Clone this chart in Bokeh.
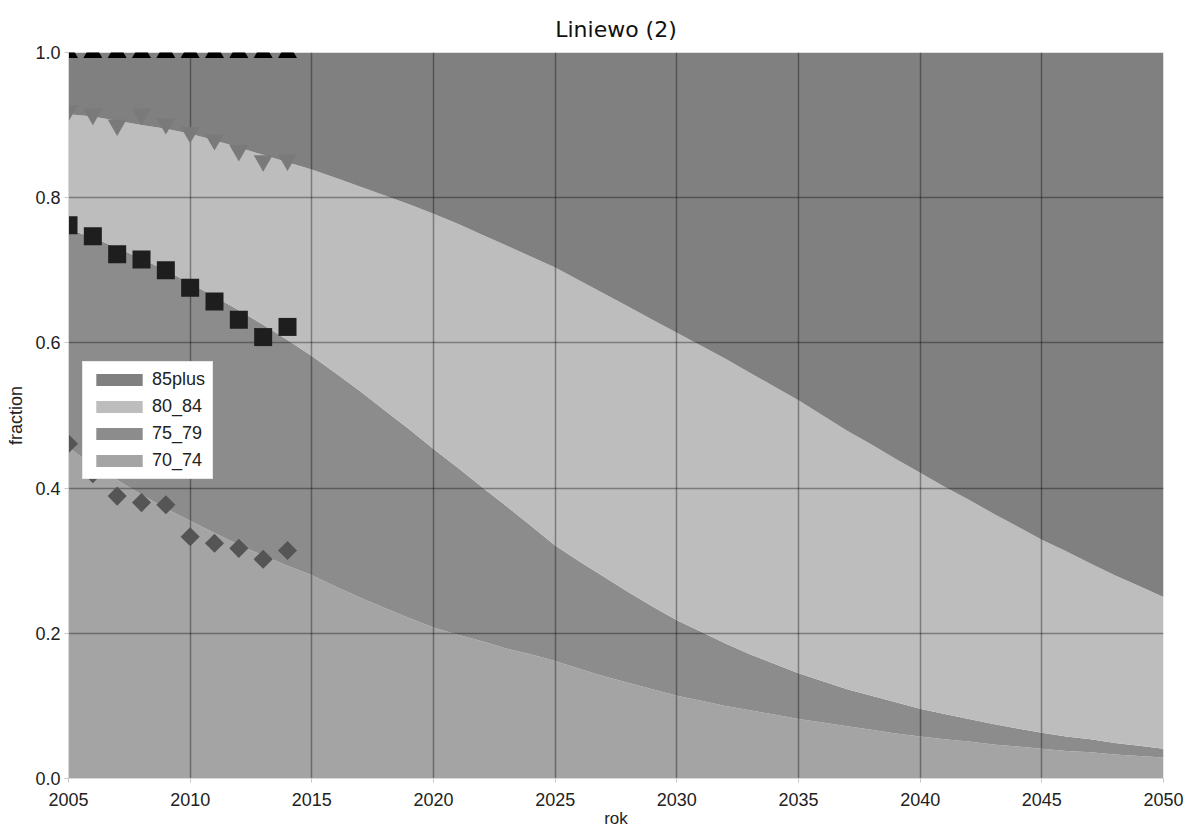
from bokeh.plotting import figure
from bokeh.models import Legend, LegendItem, FixedTicker, Range1d, PrintfTickFormatter
from bokeh.embed import file_html
from bokeh.resources import INLINE
import math

# ---- data ----
years = list(range(2005, 2051))
# cumulative fractions (stack tops)
cum_70_74 = [0.456, 0.432, 0.411, 0.391, 0.372, 0.355, 0.338, 0.322, 0.307, 0.293,
             0.280, 0.264, 0.249, 0.235, 0.221, 0.208, 0.198, 0.189, 0.179, 0.171,
             0.162, 0.151, 0.141, 0.132, 0.123, 0.114, 0.107, 0.100, 0.094, 0.088,
             0.082, 0.077, 0.072, 0.067, 0.062, 0.058, 0.054, 0.051, 0.047, 0.044,
             0.041, 0.038, 0.036, 0.033, 0.031, 0.029]
cum_75_79 = [0.757, 0.745, 0.731, 0.716, 0.700, 0.682, 0.664, 0.645, 0.625, 0.604,
             0.582, 0.558, 0.533, 0.507, 0.481, 0.454, 0.428, 0.401, 0.375, 0.348,
             0.321, 0.299, 0.278, 0.257, 0.237, 0.218, 0.202, 0.186, 0.171, 0.158,
             0.145, 0.134, 0.123, 0.114, 0.105, 0.096, 0.089, 0.082, 0.075, 0.069,
             0.063, 0.058, 0.054, 0.049, 0.045, 0.041]
cum_80_84 = [0.915, 0.912, 0.906, 0.900, 0.895, 0.888, 0.879, 0.869, 0.859, 0.849,
             0.839, 0.827, 0.815, 0.803, 0.791, 0.778, 0.764, 0.749, 0.734, 0.719,
             0.704, 0.686, 0.668, 0.650, 0.632, 0.614, 0.596, 0.578, 0.559, 0.540,
             0.521, 0.500, 0.479, 0.460, 0.440, 0.421, 0.402, 0.384, 0.365, 0.347,
             0.329, 0.313, 0.296, 0.280, 0.265, 0.250]
cum_85plus = [1.0] * len(years)

obs_years = list(range(2005, 2015))
obs_70_74 = [0.461, 0.420, 0.389, 0.380, 0.377, 0.333, 0.324, 0.317, 0.302, 0.314]
obs_75_79 = [0.762, 0.747, 0.722, 0.715, 0.700, 0.676, 0.657, 0.632, 0.608, 0.622]
obs_80_84 = [0.920, 0.915, 0.900, 0.915, 0.902, 0.890, 0.880, 0.865, 0.851, 0.852]
obs_85plus = [1.0] * 10

labels = ["85plus", "80_84", "75_79", "70_74"]
colors = {"85plus": "#808080", "80_84": "#bdbdbd", "75_79": "#8c8c8c", "70_74": "#a4a4a4"}
x_ticks = [2005, 2010, 2015, 2020, 2025, 2030, 2035, 2040, 2045, 2050]
y_ticks = [0.0, 0.2, 0.4, 0.6, 0.8, 1.0]

FONT = "Liberation Sans"

p = figure(width=1184, height=834, output_backend="svg", toolbar_location=None,
           x_range=Range1d(2005, 2050), y_range=Range1d(0, 1),
           min_border_left=68, min_border_right=21, min_border_top=52, min_border_bottom=56)
p.background_fill_color = "white"
p.outline_line_color = None

zeros = [0.0] * len(years)
bands = {
    "70_74": (zeros, cum_70_74),
    "75_79": (cum_70_74, cum_75_79),
    "80_84": (cum_75_79, cum_80_84),
    "85plus": (cum_80_84, cum_85plus),
}
rends = {}
for key in ["70_74", "75_79", "80_84", "85plus"]:
    lo, hi = bands[key]
    rends[key] = p.varea(x=years, y1=lo, y2=hi, fill_color=colors[key], level="image")

# observed points
p.scatter(obs_years, obs_85plus, marker="triangle", size=19, fill_color="#000000", line_color=None)
p.scatter(obs_years, obs_80_84, marker="inverted_triangle", size=19, fill_color="#7a7a7a", line_color=None)
p.scatter(obs_years, obs_75_79, marker="square", size=18, fill_color="#1e1e1e", line_color=None)
p.scatter(obs_years, obs_70_74, marker="square", angle=math.pi / 4, size=13.5, fill_color="#555555", line_color=None)

# grid
p.xgrid.ticker = FixedTicker(ticks=x_ticks[1:-1])
p.ygrid.ticker = FixedTicker(ticks=y_ticks[1:])
for g in (p.xgrid, p.ygrid):
    g.grid_line_color = "black"
    g.grid_line_alpha = 0.35
    g.grid_line_width = 1.5
    g.level = "underlay"

# axes
p.xaxis.ticker = FixedTicker(ticks=x_ticks)
p.yaxis.ticker = FixedTicker(ticks=y_ticks)
p.yaxis.formatter = PrintfTickFormatter(format="%.1f")
p.xaxis.axis_label = "rok"
p.yaxis.axis_label = "fraction"
for ax in (p.xaxis, p.yaxis):
    ax.axis_line_color = "#d8d8d8"
    ax.major_tick_line_color = "#c8c8c8"
    ax.major_tick_out = 4
    ax.major_tick_in = 0
    ax.minor_tick_line_color = None
    ax.major_label_text_font = FONT
    ax.major_label_text_font_size = "18px"
    ax.major_label_text_color = "#222222"
    ax.axis_label_text_font = FONT
    ax.axis_label_text_font_style = "normal"
    ax.axis_label_text_color = "#222222"
p.xaxis.axis_label_text_font_size = "17px"
p.yaxis.axis_label_text_font_size = "18px"
p.xaxis.major_label_standoff = 10
p.xaxis.axis_label_standoff = 0
p.yaxis.major_label_standoff = 4
p.yaxis.axis_label_standoff = 6

# title
p.title.text = "Liniewo (2)"
p.title.align = "center"
p.title.text_font = "DejaVu Sans"
p.title.text_font_size = "22px"
p.title.text_font_style = "normal"
p.title.text_color = "#111111"
p.title.standoff = 22

legend = Legend(items=[LegendItem(label=k, renderers=[rends[k]]) for k in labels],
                location=(14, 299), orientation="vertical",
                glyph_width=58, glyph_height=15, label_height=17, spacing=6, padding=7,
                label_standoff=4, margin=0,
                label_text_font=FONT, label_text_font_size="18px", label_text_color="#222222",
                background_fill_color="white", background_fill_alpha=1.0,
                border_line_color="#d0d0d0", border_line_width=1)
p.add_layout(legend, "center")

open("out.html", "w").write(file_html(p, INLINE))
